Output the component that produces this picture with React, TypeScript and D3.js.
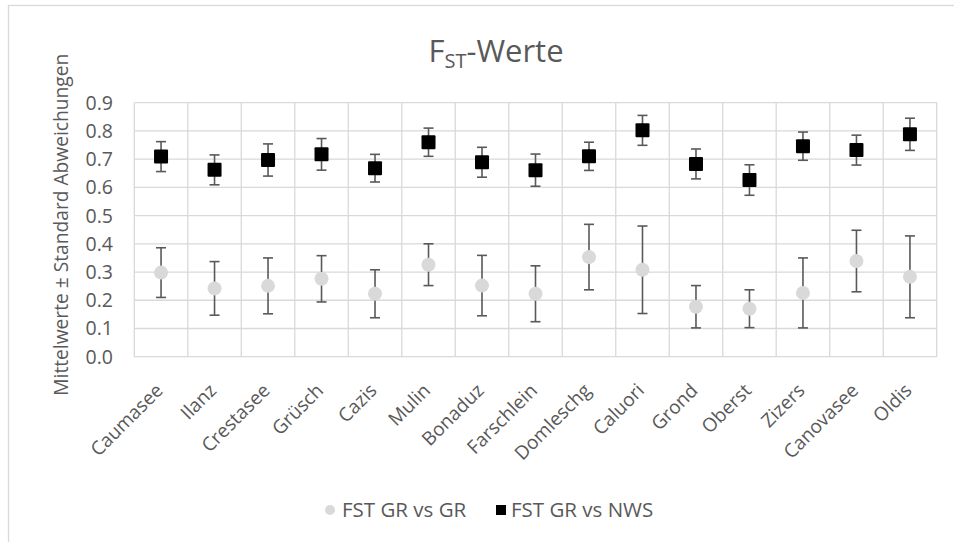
import React from "react";
import * as d3 from "d3";

const categories = ["Caumasee", "Ilanz", "Crestasee", "Grüsch", "Cazis", "Mulin", "Bonaduz", "Farschlein", "Domleschg", "Caluori", "Grond", "Oberst", "Zizers", "Canovasee", "Oldis"];
const gvgMean = [0.298, 0.242, 0.251, 0.276, 0.223, 0.326, 0.252, 0.223, 0.353, 0.308, 0.177, 0.170, 0.226, 0.339, 0.283];
const gvgSd = [0.088, 0.095, 0.099, 0.082, 0.085, 0.074, 0.107, 0.099, 0.116, 0.155, 0.075, 0.067, 0.124, 0.109, 0.145];
const nwsMean = [0.709, 0.662, 0.697, 0.717, 0.668, 0.760, 0.689, 0.661, 0.710, 0.802, 0.683, 0.626, 0.746, 0.732, 0.788];
const nwsSd = [0.053, 0.053, 0.057, 0.056, 0.049, 0.050, 0.053, 0.057, 0.050, 0.053, 0.053, 0.054, 0.050, 0.053, 0.057];
const yTicks = [0, 0.1, 0.2, 0.3, 0.4, 0.5, 0.6, 0.7, 0.8, 0.9];
const seriesNames = ["FST GR vs GR", "FST GR vs NWS"];

const W = 954, H = 542;
const left = 134.3, right = 936.7, top = 102.7, bottom = 356.7;
const FONT = "'Open Sans', sans-serif";
const TXT = "#595959";
const GRID = "#d9d9d9";

export default function App() {
  const x = d3.scaleBand<string>().domain(categories).range([left, right]).padding(0);
  const y = d3.scaleLinear().domain([0, 0.9]).range([bottom, top]);
  const cx = (c: string) => (x(c) as number) + x.bandwidth() / 2;
  const cap = 5;

  return (
    <svg width={W} height={H} style={{ position: "absolute", left: 0, top: 0, background: "#fff" }}>
      <rect x={8.5} y={5.5} width={W + 20} height={H + 20} fill="#fff" stroke={GRID} strokeWidth={1.3} />
      {/* title */}
      <text x={496} y={62} fontFamily={FONT} fontSize={31} fill={TXT} textAnchor="middle">
        F<tspan fontSize={20} dy={6}>ST</tspan><tspan dy={-6}>-Werte</tspan>
      </text>
      {/* grid */}
      {yTicks.map((t) => (
        <line key={"h" + t} x1={left} x2={right} y1={y(t)} y2={y(t)} stroke={GRID} strokeWidth={1.3} />
      ))}
      {d3.range(categories.length + 1).map((i) => {
        const xx = left + i * x.bandwidth();
        return <line key={"v" + i} x1={xx} x2={xx} y1={top} y2={bottom} stroke={GRID} strokeWidth={1.3} />;
      })}
      {/* y ticks */}
      {yTicks.map((t) => (
        <text key={"yt" + t} x={113} y={y(t)} dy="0.36em" fontFamily={FONT} fontSize={19.5} fill={TXT} textAnchor="end">
          {d3.format(".1f")(t)}
        </text>
      ))}
      <text transform={`translate(68,${(top + bottom) / 2 - 5}) rotate(-90)`} fontFamily={FONT} fontSize={19.2} fill={TXT} textAnchor="middle">
        Mittelwerte ± Standard Abweichungen
      </text>
      {/* x labels */}
      {categories.map((c) => (
        <text key={"xl" + c} transform={`translate(${cx(c) + 3},${bottom + 35}) rotate(-45)`} fontFamily={FONT} fontSize={19} fill={TXT} textAnchor="end">
          {c}
        </text>
      ))}
      {/* error bars */}
      {categories.map((c, i) => (
        <g key={"e" + c} stroke="#595959" strokeWidth={1.6}>
          <line x1={cx(c)} x2={cx(c)} y1={y(gvgMean[i] - gvgSd[i])} y2={y(gvgMean[i] + gvgSd[i])} />
          <line x1={cx(c) - cap} x2={cx(c) + cap} y1={y(gvgMean[i] - gvgSd[i])} y2={y(gvgMean[i] - gvgSd[i])} />
          <line x1={cx(c) - cap} x2={cx(c) + cap} y1={y(gvgMean[i] + gvgSd[i])} y2={y(gvgMean[i] + gvgSd[i])} />
          <line x1={cx(c)} x2={cx(c)} y1={y(nwsMean[i] - nwsSd[i])} y2={y(nwsMean[i] + nwsSd[i])} />
          <line x1={cx(c) - cap} x2={cx(c) + cap} y1={y(nwsMean[i] - nwsSd[i])} y2={y(nwsMean[i] - nwsSd[i])} />
          <line x1={cx(c) - cap} x2={cx(c) + cap} y1={y(nwsMean[i] + nwsSd[i])} y2={y(nwsMean[i] + nwsSd[i])} />
        </g>
      ))}
      {/* markers */}
      {categories.map((c, i) => (
        <g key={"m" + c}>
          <circle cx={cx(c)} cy={y(gvgMean[i])} r={7} fill="#d9d9d9" />
          <rect x={cx(c) - 7} y={y(nwsMean[i]) - 7} width={14} height={14} fill="#000" rx={1} />
        </g>
      ))}
      {/* legend */}
      <circle cx={330} cy={510} r={5} fill="#d9d9d9" />
      <text x={342} y={510} dy="0.35em" fontFamily={FONT} fontSize={20.5} fill={TXT}>{seriesNames[0]}</text>
      <rect x={496} y={505} width={10} height={10} fill="#000" />
      <text x={511} y={510} dy="0.35em" fontFamily={FONT} fontSize={20.5} fill={TXT}>{seriesNames[1]}</text>
    </svg>
  );
}
